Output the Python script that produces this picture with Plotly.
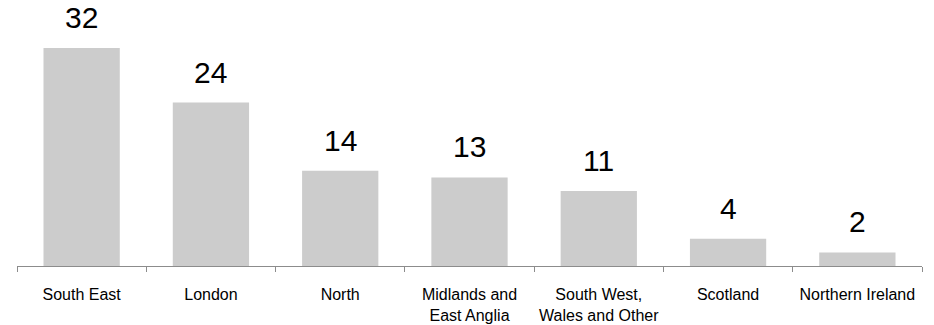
import plotly.graph_objects as go

# Regional breakdown
regions = ["South East", "London", "North", "Midlands and<br>East Anglia",
           "South West,<br>Wales and Other", "Scotland", "Northern Ireland"]
values = [32, 24, 14, 13, 11, 4, 2]

BAR_COLOR = "#CCCCCC"
AXIS_COLOR = "#8C8C8C"
FONT = "Liberation Sans, Arial, sans-serif"

fig = go.Figure(
    go.Bar(
        x=regions,
        y=values,
        marker=dict(color=BAR_COLOR, line=dict(width=0)),
        hoverinfo="skip",
    )
)

# Value labels above each bar
for r, v in zip(regions, values):
    fig.add_annotation(
        x=r, y=v, text=str(v), showarrow=False,
        xref="x", yref="y", yanchor="bottom", yshift=12,
        font=dict(family=FONT, size=30, color="#000000"),
    )

fig.update_layout(
    width=934, height=325,
    margin=dict(l=17, r=12, t=0, b=59),
    paper_bgcolor="white", plot_bgcolor="white",
    bargap=0.41,
    showlegend=False,
    font=dict(family=FONT, size=16, color="#000000"),
)
fig.update_xaxes(
    type="category",
    range=[-0.5, len(regions) - 0.5],
    showline=True, linecolor=AXIS_COLOR, linewidth=1,
    ticks="outside", tickson="boundaries", ticklen=5,
    tickcolor=AXIS_COLOR, tickwidth=1,
    ticklabelstandoff=14,
    showgrid=False, zeroline=False,
    tickfont=dict(family=FONT, size=16, color="#000000"),
)
fig.update_yaxes(
    range=[0, 39.06], visible=False, showgrid=False, zeroline=False,
)

fig.write_html("out.html")
